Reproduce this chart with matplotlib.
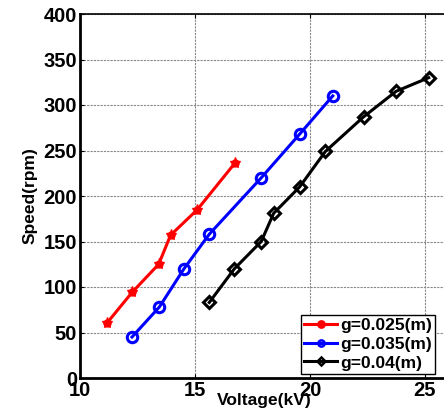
import matplotlib
matplotlib.use("Agg")
import matplotlib.pyplot as plt

x_red = [11.16, 12.26, 13.42, 13.94, 15.1, 16.73]
y_red = [60, 94, 125, 157, 185, 236]
x_blue = [12.26, 13.45, 14.52, 15.62, 17.88, 19.55, 20.99]
y_blue = [45, 78, 120, 158, 220, 268, 310]
x_black = [15.62, 16.71, 17.88, 18.42, 19.55, 20.67, 22.33, 23.74, 25.16]
y_black = [83, 120, 150, 181, 210, 249, 287, 315, 330]
labels = ["g=0.025(m)", "g=0.035(m)", "g=0.04(m)"]
xticks = [10, 15, 20, 25]
yticks = [0, 50, 100, 150, 200, 250, 300, 350, 400]

plt.rcParams['font.family'] = ['Liberation Sans', 'DejaVu Sans']
plt.rcParams['font.weight'] = 'bold'

fig = plt.figure(figsize=(4.44, 4.16), dpi=100)
ax = fig.add_axes([80/444, 38/416, 368/444, 364/416])

ax.plot(x_red, y_red, color='red', lw=2.2, marker='o', ms=5, label=labels[0])
ax.plot(x_red, y_red, color='red', lw=0, marker='*', ms=8)
ax.plot(x_blue, y_blue, color='blue', lw=2.2, marker='o', ms=7.5, mfc='none', mew=2.2, label=labels[1])
ax.plot(x_black, y_black, color='black', lw=2.2, marker='D', ms=6.5, mfc='none', mew=2.2, label=labels[2])

ax.set_xlim(10, 26)
ax.set_ylim(0, 400)
ax.set_xticks(xticks)
ax.set_yticks(yticks)
ax.grid(True, color='#888888', lw=0.8, ls=(0, (2, 1)))
ax.tick_params(direction='in', top=True, right=True, labelsize=14.5, pad=2, length=3)
for lab in ax.get_xticklabels() + ax.get_yticklabels():
    lab.set_fontweight('bold')
for s in ['left', 'bottom']:
    ax.spines[s].set_linewidth(2)
for s in ['top', 'right']:
    ax.spines[s].set_linewidth(1.2)

ax.set_xlabel('Voltage(kV)', fontsize=12.5, fontweight='bold', labelpad=-5)
ax.set_ylabel('Speed(rpm)', fontsize=12.5, fontweight='bold', labelpad=4)

leg = ax.legend(loc='lower left', bbox_to_anchor=((301-80)/368, 4/364),
                prop={'size': 12.5, 'weight': 'bold'}, fancybox=False,
                edgecolor='black', framealpha=1, borderaxespad=0,
                handlelength=1.85, labelspacing=0.2, borderpad=0.2, handletextpad=0.2)
leg.get_frame().set_linewidth(1)
for h in leg.legend_handles:
    h.set_markersize(4.5)
    h.set_markeredgewidth(1.8)

fig.savefig('out.png', dpi=100)
